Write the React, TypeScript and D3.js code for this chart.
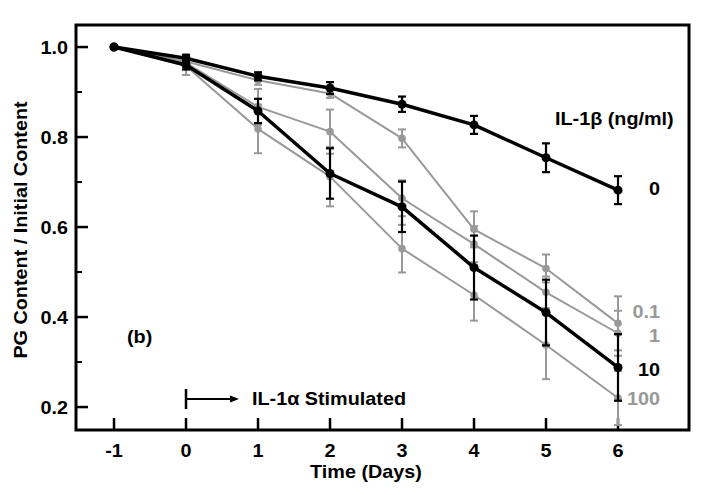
import React from "react";
import * as d3 from "d3";

const days = [-1, 0, 1, 2, 3, 4, 5, 6];
const seriesNames = ["0", "0.1", "1", "10", "100"];
const il0 = [1.0, 0.975, 0.935, 0.909, 0.873, 0.827, 0.754, 0.682];
const il0Err = [0, 0.008, 0.009, 0.013, 0.017, 0.02, 0.032, 0.031];
const il01 = [1.0, 0.968, 0.926, 0.897, 0.797, 0.595, 0.508, 0.386];
const il01Err = [0, 0.012, 0.01, 0.01, 0.02, 0.04, 0.031, 0.06];
const il1 = [1.0, 0.965, 0.867, 0.812, 0.664, 0.562, 0.455, 0.364];
const il1Err = [0, 0.014, 0.04, 0.049, 0.04, 0.04, 0.035, 0.05];
const il10 = [1.0, 0.96, 0.858, 0.719, 0.645, 0.51, 0.41, 0.288];
const il10Err = [0, 0.01, 0.027, 0.056, 0.056, 0.071, 0.073, 0.074];
const il100 = [1.0, 0.958, 0.818, 0.712, 0.552, 0.449, 0.338, 0.22];
const il100Err = [0, 0.02, 0.054, 0.066, 0.053, 0.057, 0.076, 0.06];
const yTicks = [0.2, 0.4, 0.6, 0.8, 1.0];
const yMinor = [0.3, 0.5, 0.7, 0.9];
const xTicks = [-1, 0, 1, 2, 3, 4, 5, 6];

const BLACK = "#000";
const GRAY = "#999";

const W = 716, H = 495;
const left = 76, right = 689, top = 25, bottom = 430;

const x = d3.scaleLinear().domain([-1.528, 6.986]).range([left, right]);
const y = d3.scaleLinear().domain([0.149, 1.049]).range([bottom, top]);

const FONT = "'Liberation Sans', Arial, sans-serif";
const SX = 1.1;

type S = { name: string; vals: number[]; err: number[]; color: string; lw: number; r: number; labelY: number };

const series: S[] = [
  { name: seriesNames[1], vals: il01, err: il01Err, color: GRAY, lw: 2, r: 3.8, labelY: 318 },
  { name: seriesNames[2], vals: il1, err: il1Err, color: GRAY, lw: 2, r: 3.8, labelY: 342 },
  { name: seriesNames[4], vals: il100, err: il100Err, color: GRAY, lw: 2, r: 3.8, labelY: 405 },
  { name: seriesNames[0], vals: il0, err: il0Err, color: BLACK, lw: 3.5, r: 4.5, labelY: 195 },
  { name: seriesNames[3], vals: il10, err: il10Err, color: BLACK, lw: 3.5, r: 4.5, labelY: 376 },
];

function T(props: { x: number; y: number; anchor?: string; fill?: string; size?: number; children: any; rotate?: boolean }) {
  const { x: tx, y: ty, anchor = "start", fill = BLACK, size = 18, children, rotate } = props;
  const tr = rotate ? `translate(${tx},${ty}) rotate(-90) scale(${SX},1)` : `translate(${tx},${ty}) scale(${SX},1)`;
  return (
    <text transform={tr} textAnchor={anchor} fill={fill} fontFamily={FONT} fontWeight="bold" fontSize={size}>
      {children}
    </text>
  );
}

export default function App() {
  const line = d3
    .line<number>()
    .x((_, i) => x(days[i]))
    .y((v) => y(v));
  const cap = 4;
  return (
    <svg width={W} height={H} style={{ position: "absolute", left: 0, top: 0, background: "#fff" }}>
      <rect x={0} y={0} width={W} height={H} fill="#fff" />
      {/* ticks */}
      {yTicks.map((t) => (
        <line key={"yt" + t} x1={left} x2={left + 12} y1={y(t)} y2={y(t)} stroke={BLACK} strokeWidth={2.5} />
      ))}
      {yMinor.map((t) => (
        <line key={"ym" + t} x1={left} x2={left + 6} y1={y(t)} y2={y(t)} stroke={BLACK} strokeWidth={2} />
      ))}
      {xTicks.map((t) => (
        <line key={"xt" + t} x1={x(t)} x2={x(t)} y1={bottom} y2={bottom - 12} stroke={BLACK} strokeWidth={2.5} />
      ))}
      {yTicks.map((t) => (
        <T key={"yl" + t} x={68} y={y(t) + 6.5} anchor="end">
          {d3.format(".1f")(t)}
        </T>
      ))}
      {xTicks.map((t) => (
        <T key={"xl" + t} x={x(t)} y={457} anchor="middle">
          {String(t)}
        </T>
      ))}
      <T x={366} y={478} anchor="middle">Time (Days)</T>
      <T x={27} y={230} anchor="middle" rotate>PG Content / Initial Content</T>

      {/* series */}
      {series.map((s) => (
        <g key={"s" + s.name}>
          <path d={line(s.vals) || ""} fill="none" stroke={s.color} strokeWidth={s.lw} strokeLinejoin="round" />
          {s.vals.map((v, i) =>
            s.err[i] > 0 ? (
              <g key={i} stroke={s.color} strokeWidth={s.color === BLACK ? 2.2 : 2}>
                <line x1={x(days[i])} x2={x(days[i])} y1={y(v - s.err[i])} y2={y(v + s.err[i])} />
                <line x1={x(days[i]) - cap} x2={x(days[i]) + cap} y1={y(v - s.err[i])} y2={y(v - s.err[i])} />
                <line x1={x(days[i]) - cap} x2={x(days[i]) + cap} y1={y(v + s.err[i])} y2={y(v + s.err[i])} />
              </g>
            ) : null
          )}
          {s.vals.map((v, i) => (
            <circle key={"c" + i} cx={x(days[i])} cy={y(v)} r={s.r} fill={s.color} />
          ))}
          <T x={660} y={s.labelY} anchor="end" fill={s.color}>
            {s.name}
          </T>
        </g>
      ))}

      <T x={555} y={125}>IL-1β (ng/ml)</T>
      <T x={127} y={343}>(b)</T>

      {/* stimulation arrow */}
      <line x1={x(0)} x2={x(0)} y1={389} y2={409} stroke={BLACK} strokeWidth={2.5} />
      <line x1={x(0)} x2={232} y1={399} y2={399} stroke={BLACK} strokeWidth={2} />
      <path d={`M${230},${395.5} L${239},${399} L${230},${402.5} Z`} fill={BLACK} />
      <T x={252} y={405}>IL-1α Stimulated</T>

      {/* frame */}
      <rect x={left} y={top} width={right - left} height={bottom - top} fill="none" stroke={BLACK} strokeWidth={3} />
    </svg>
  );
}
